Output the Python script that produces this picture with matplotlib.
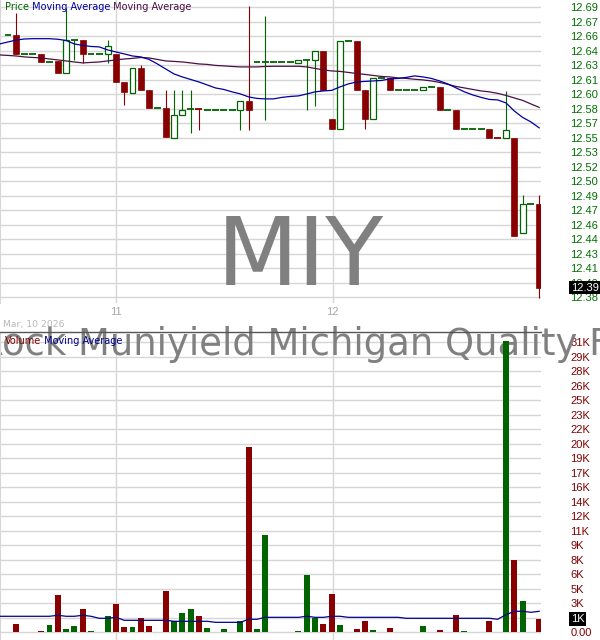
import matplotlib
matplotlib.use("Agg")
import matplotlib.pyplot as plt
from matplotlib.patches import Rectangle
from matplotlib.transforms import blended_transform_factory

# === Candles (one per bar) ===
opens = [12.660, 12.660, 12.640, 12.640, 12.640, 12.631, 12.632, 12.620, 12.655, 12.655,
         12.640, 12.640, 12.640, 12.640, 12.610, 12.598, 12.625, 12.601, 12.582, 12.582,
         12.550, 12.575, 12.581, 12.581, 12.580, 12.580, 12.580, 12.580, 12.580, 12.590,
         12.631, 12.631, 12.631, 12.631, 12.631, 12.630, 12.634, 12.634, 12.643, 12.570,
         12.560, 12.654, 12.654, 12.601, 12.570, 12.614, 12.614, 12.601, 12.601, 12.601,
         12.601, 12.605, 12.605, 12.580, 12.580, 12.560, 12.560, 12.560, 12.560, 12.550,
         12.550, 12.550, 12.449, 12.479, 12.479]
highs = [12.660, 12.684, 12.640, 12.640, 12.640, 12.631, 12.632, 12.689, 12.655, 12.655,
         12.640, 12.640, 12.655, 12.640, 12.610, 12.625, 12.628, 12.601, 12.582, 12.601,
         12.601, 12.601, 12.601, 12.581, 12.580, 12.580, 12.580, 12.580, 12.590, 12.691,
         12.631, 12.681, 12.631, 12.631, 12.631, 12.634, 12.634, 12.643, 12.643, 12.570,
         12.654, 12.654, 12.654, 12.601, 12.614, 12.614, 12.614, 12.601, 12.601, 12.601,
         12.605, 12.605, 12.605, 12.580, 12.580, 12.560, 12.560, 12.560, 12.560, 12.550,
         12.600, 12.550, 12.489, 12.479, 12.489]
lows = [12.660, 12.640, 12.640, 12.640, 12.631, 12.631, 12.620, 12.620, 12.634, 12.630,
        12.640, 12.640, 12.630, 12.610, 12.585, 12.598, 12.601, 12.582, 12.582, 12.551,
        12.550, 12.575, 12.556, 12.559, 12.580, 12.580, 12.580, 12.580, 12.559, 12.559,
        12.631, 12.569, 12.631, 12.631, 12.631, 12.630, 12.580, 12.584, 12.601, 12.560,
        12.560, 12.654, 12.601, 12.560, 12.570, 12.614, 12.601, 12.601, 12.601, 12.601,
        12.601, 12.605, 12.580, 12.580, 12.560, 12.560, 12.560, 12.560, 12.550, 12.550,
        12.550, 12.445, 12.449, 12.479, 12.379]
closes = [12.660, 12.640, 12.640, 12.640, 12.631, 12.631, 12.620, 12.655, 12.655, 12.640,
          12.640, 12.640, 12.649, 12.610, 12.599, 12.625, 12.601, 12.582, 12.582, 12.551,
          12.575, 12.580, 12.581, 12.581, 12.580, 12.580, 12.580, 12.580, 12.590, 12.580,
          12.631, 12.631, 12.631, 12.631, 12.631, 12.634, 12.634, 12.643, 12.601, 12.560,
          12.654, 12.654, 12.601, 12.570, 12.614, 12.614, 12.601, 12.601, 12.601, 12.601,
          12.605, 12.605, 12.580, 12.580, 12.560, 12.560, 12.560, 12.560, 12.550, 12.550,
          12.559, 12.445, 12.479, 12.479, 12.390]
up = [1, 0, 1, 1, 0, 1, 0, 1, 1, 0,
      1, 1, 1, 0, 0, 1, 0, 0, 1, 0,
      1, 1, 1, 0, 1, 1, 1, 1, 1, 0,
      1, 1, 1, 1, 1, 1, 1, 1, 0, 0,
      1, 1, 0, 0, 1, 1, 0, 1, 1, 1,
      1, 1, 0, 1, 0, 1, 1, 1, 0, 0,
      1, 0, 1, 1, 0]
volumes = [0, 900, 0, 0, 100, 700, 4000, 300, 600, 2500,
           100, 0, 1700, 3000, 500, 500, 1500, 600, 0, 4400,
           1200, 2000, 2500, 1700, 400, 0, 300, 0, 1200, 19800,
           300, 10400, 0, 0, 0, 100, 6100, 1500, 900, 4100,
           700, 0, 300, 1200, 200, 0, 400, 0, 0, 0,
           600, 0, 200, 0, 1800, 100, 0, 0, 1200, 0,
           31100, 7700, 3300, 0, 1400]

# === Moving averages (first value sits one bar before the first candle) ===
ma_fast = [12.6508, 12.6529, 12.6550, 12.6561, 12.6564, 12.6564, 12.6564, 12.6558, 12.6545, 12.6508,
           12.6492, 12.6481, 12.6476, 12.6444, 12.6422, 12.6401, 12.6379, 12.6369, 12.6342, 12.6294,
           12.6240, 12.6187, 12.6155, 12.6128, 12.6101, 12.6069, 12.6037, 12.6021, 12.5995, 12.5973,
           12.5941, 12.5925, 12.5920, 12.5920, 12.5936, 12.5946, 12.5952, 12.5973, 12.5995, 12.6005,
           12.6011, 12.6048, 12.6080, 12.6101, 12.6107, 12.6112, 12.6117, 12.6134, 12.6139, 12.6150,
           12.6166, 12.6155, 12.6139, 12.6112, 12.6080, 12.6037, 12.5995, 12.5962, 12.5936, 12.5914,
           12.5909, 12.5877, 12.5791, 12.5722, 12.5674, 12.5610]
ma_slow = [12.6390, 12.6385, 12.6379, 12.6369, 12.6363, 12.6358, 12.6347, 12.6337, 12.6326, 12.6315,
           12.6305, 12.6310, 12.6315, 12.6326, 12.6337, 12.6347, 12.6353, 12.6363, 12.6358, 12.6342,
           12.6326, 12.6321, 12.6315, 12.6305, 12.6294, 12.6289, 12.6278, 12.6273, 12.6267, 12.6262,
           12.6262, 12.6262, 12.6267, 12.6269, 12.6269, 12.6269, 12.6269, 12.6262, 12.6246, 12.6230,
           12.6219, 12.6214, 12.6203, 12.6192, 12.6182, 12.6171, 12.6160, 12.6155, 12.6144, 12.6139,
           12.6130, 12.6123, 12.6112, 12.6096, 12.6075, 12.6053, 12.6037, 12.6021, 12.6005, 12.5995,
           12.5979, 12.5957, 12.5930, 12.5904, 12.5866, 12.5829]
vol_ma = [1680, 1680, 1680, 1680, 1680, 1680, 1680, 1785, 1680, 1680,
          1785, 1680, 1465, 1465, 1570, 1250, 1250, 1250, 1250, 1250,
          1250, 1145, 1145, 1145, 1145, 1145, 1035, 1035, 1035, 1035,
          1360, 1360, 1570, 1570, 1570, 1570, 1570, 1680, 1570, 1570,
          1680, 1680, 1570, 1570, 1570, 1570, 1570, 1570, 1570, 1465,
          1465, 1465, 1465, 1465, 1465, 1465, 1465, 1465, 1465, 1465,
          1360, 1850, 2215, 2215, 2105, 2215]

# === Axis labels ===
price_labels = ["12.38", "12.40", "12.41", "12.43", "12.44", "12.46", "12.47", "12.49", "12.50", "12.52",
                "12.53", "12.55", "12.57", "12.58", "12.60", "12.61", "12.63", "12.64", "12.66", "12.67", "12.69"]
price_ticks = [12.38 + k * 0.0155 for k in range(len(price_labels))]
vol_labels = ["0.00", "2K", "3K", "5K", "6K", "8K", "9K", "11K", "12K", "14K", "16K",
              "17K", "19K", "20K", "22K", "23K", "25K", "26K", "28K", "29K", "31K"]
vol_ticks = [k * 1550 for k in range(len(vol_labels))]
hour_ticks = [13.05, 39.1]
hour_labels = ["11", "12"]
symbol = "MIY"
company = "BlackRock Muniyield Michigan Quality Fund"
date_label = "Mar, 10 2026"

# === Colours ===
GREEN = '#006400'
RED = '#880000'
BLUE = '#0000a0'
PURPLE = '#4b0f45'
GRID = '#d6d6d6'

n = len(closes)
idx = list(range(n))
ma_idx = list(range(-1, n))

fig = plt.figure(figsize=(6, 6.4), dpi=100)
W, H = 600.0, 640.0
ax = fig.add_axes([0, 1 - 303 / H, 541 / W, 303 / H])
axv = fig.add_axes([0, 0, 541 / W, 308 / H])

# === Price panel ===
body_w = 0.72
for i in idx:
    o, h, l, c = opens[i], highs[i], lows[i], closes[i]
    col = GREEN if up[i] else RED
    if h > l:
        ax.vlines(i, l, h, color=col, lw=0.8, zorder=3)
    if abs(c - o) < 1e-9:
        ax.hlines(o, i - 0.42, i + 0.42, color=col, lw=1.3, zorder=4)
    elif up[i]:
        ax.add_patch(Rectangle((i - body_w / 2, min(o, c)), body_w, abs(c - o),
                               facecolor='white', edgecolor=col, lw=0.9, zorder=4))
    else:
        ax.add_patch(Rectangle((i - body_w / 2, min(o, c)), body_w, abs(c - o),
                               facecolor=col, edgecolor=col, lw=0.5, zorder=4))

ax.plot(ma_idx, ma_slow, color=PURPLE, lw=0.9, zorder=5)
ax.plot(ma_idx, ma_fast, color=BLUE, lw=0.9, zorder=5)

ax.set_xlim(-0.964, 64.22)
ax.set_ylim(12.3736, 12.6978)
ax.set_yticks(price_ticks)
ax.set_yticklabels(price_labels)
ax.yaxis.tick_right()
ax.tick_params(axis='y', length=0, pad=21, labelsize=8, labelcolor='#007000',
               labelfontfamily='Liberation Sans')
ax.set_xticks(hour_ticks)
ax.set_xticklabels(hour_labels)
ax.tick_params(axis='x', length=0, pad=3, labelsize=8, labelcolor='#a8a8a8',
               labelfontfamily='Liberation Sans')
ax.grid(True, color=GRID, lw=1.0)
ax.set_axisbelow(True)
for s in ['top', 'right', 'bottom']:
    ax.spines[s].set_visible(False)
ax.spines['left'].set_color(GRID)

ax.text(300 / 541, 18 / 303, symbol, transform=ax.transAxes, ha='center', va='baseline',
        fontsize=68, color='#808080', family='DejaVu Sans', zorder=1.5)

tr = blended_transform_factory(ax.transAxes, ax.transData)
ax.text(571 / 541, closes[-1], "12.39", transform=tr, ha='left', va='center', fontsize=8,
        color='white', family='Liberation Sans', clip_on=False, zorder=10,
        bbox=dict(boxstyle='square,pad=0.15', fc='black', ec='none'))

# === Volume panel ===
vcols = [GREEN if u else RED for u in up]
axv.bar(idx, volumes, width=body_w, color=vcols, zorder=3)
axv.plot(ma_idx, vol_ma, color='#00008b', lw=0.9, zorder=4)
axv.set_xlim(-0.964, 64.22)
axv.set_ylim(-855, 32070)
axv.set_yticks(vol_ticks)
axv.set_yticklabels(vol_labels)
axv.yaxis.tick_right()
axv.tick_params(axis='y', length=0, pad=21, labelsize=8, labelcolor='#800000',
                labelfontfamily='Liberation Sans')
axv.set_xticks(hour_ticks)
axv.tick_params(axis='x', length=0, labelbottom=False)
axv.grid(True, color=GRID, lw=1.0)
axv.set_axisbelow(True)
for s in ['right', 'bottom']:
    axv.spines[s].set_visible(False)
axv.spines['left'].set_color(GRID)
axv.spines['top'].set_color('#555555')
axv.spines['top'].set_linewidth(1.0)

axv.text(-121.5 / 541, (640 - 355) / 308, company, transform=axv.transAxes, ha='left',
         va='baseline', fontsize=26.6, color='#808080', family='DejaVu Sans',
         clip_on=False, zorder=1.5)

trv = blended_transform_factory(axv.transAxes, axv.transData)
axv.text(571 / 541, volumes[-1], "1K", transform=trv, ha='left', va='center', fontsize=8,
         color='white', family='Liberation Sans', clip_on=False, zorder=10,
         bbox=dict(boxstyle='square,pad=0.15', fc='black', ec='none'))

# === Legends and date ===
t1 = fig.text(5 / W, 1 - 10 / H, "Price", color=GREEN, fontsize=7, va='baseline', family='DejaVu Sans')
t2 = fig.text(0, 0, "")
t2 = ax.annotate(" Moving Average", xy=(1, 0), xycoords=t1, va='bottom', ha='left',
                 color=BLUE, fontsize=7, family='DejaVu Sans')
ax.annotate(" Moving Average", xy=(1, 0), xycoords=t2, va='bottom', ha='left',
            color=PURPLE, fontsize=7, family='DejaVu Sans')

v1 = fig.text(5 / W, 1 - 344.5 / H, "Volume", color='#800000', fontsize=7, va='baseline',
              family='DejaVu Sans')
axv.annotate(" Moving Average", xy=(1, 0), xycoords=v1, va='bottom', ha='left',
             color='#00008b', fontsize=7, family='DejaVu Sans')

fig.text(3 / W, 1 - 324 / H, date_label, color='#b8b8b8', fontsize=6.7, va='center',
         family='DejaVu Sans')

fig.savefig("out.png", dpi=100)
